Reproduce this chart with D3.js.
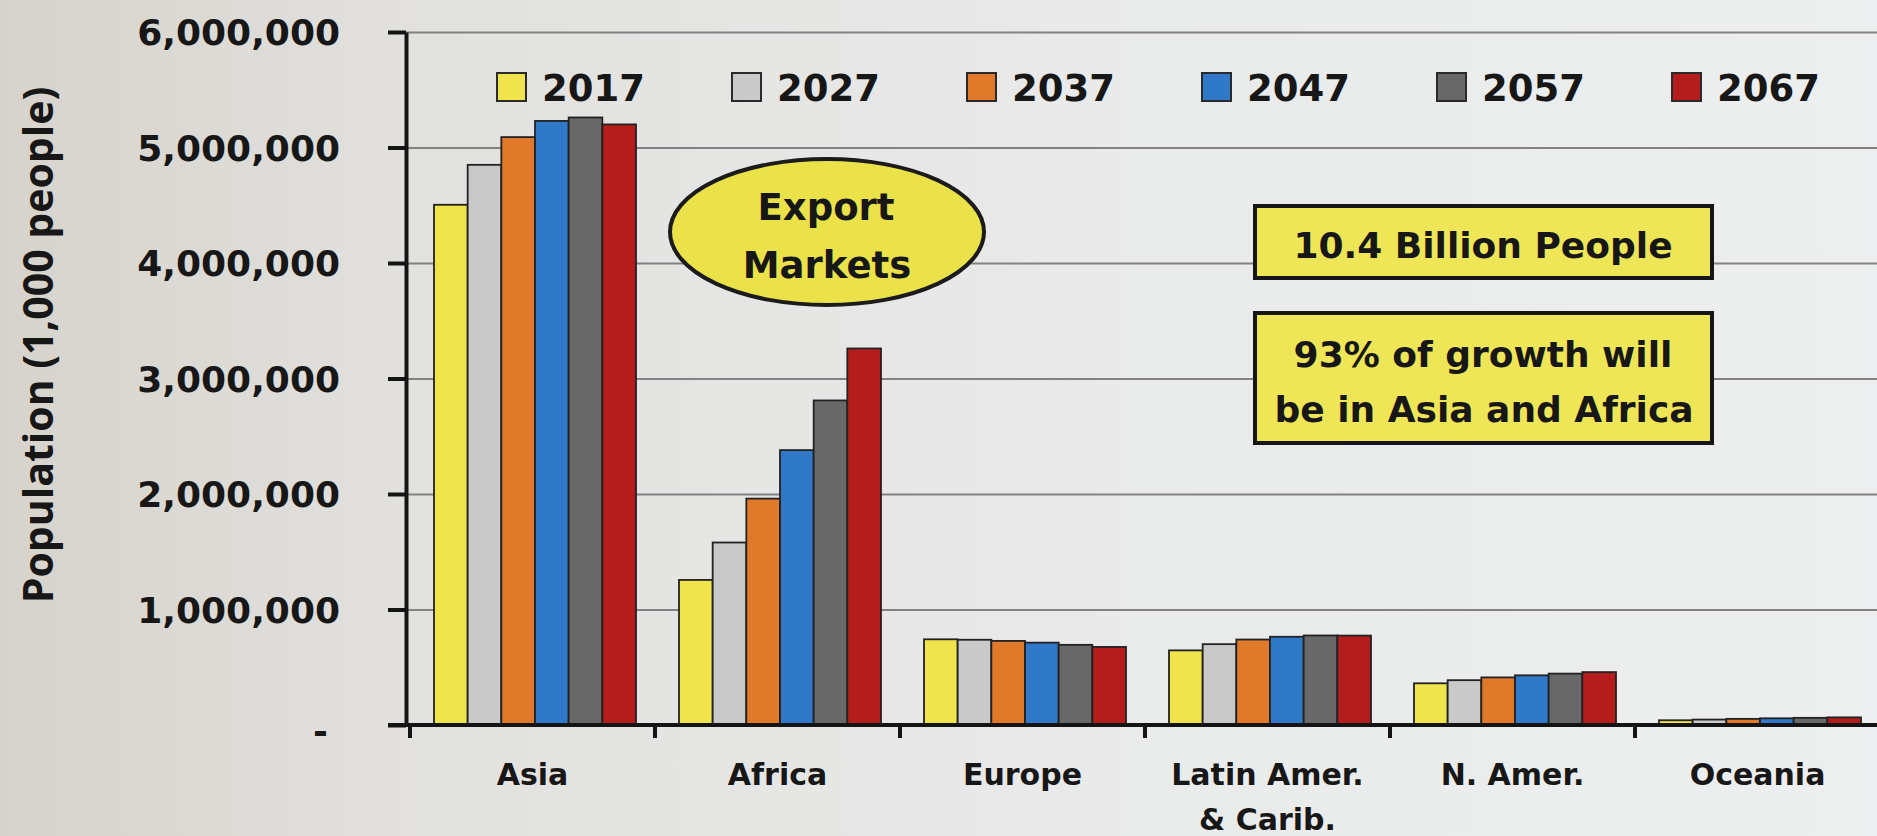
<!DOCTYPE html>
<html>
<head>
<meta charset="utf-8">
<script src="https://cdn.jsdelivr.net/npm/d3@7"></script>
<style>
  html, body { margin: 0; padding: 0; background: #e6e6e4; }
  svg { display: block; }
  text { font-family: "DejaVu Sans", sans-serif; font-weight: bold; fill: #171717; }
</style>
</head>
<body>
<svg id="chart" width="1877" height="836"></svg>
<script>
// Regions and projection years
const regions = ["Asia", "Africa", "Europe", "Latin Amer.|& Carib.", "N. Amer.", "Oceania"];
const years = ["2017", "2027", "2037", "2047", "2057", "2067"];

// Population by region (1,000 people), one array per year
const pop2017 = [4504000, 1256000, 742000, 646000, 361000, 41000];
const pop2027 = [4850000, 1580000, 738000, 700000, 388000, 47000];
const pop2037 = [5090000, 1960000, 728000, 740000, 412000, 53000];
const pop2047 = [5230000, 2380000, 713000, 764000, 430000, 58000];
const pop2057 = [5260000, 2810000, 694000, 775000, 445000, 62000];
const pop2067 = [5200000, 3260000, 676000, 774000, 458000, 66000];
const series = [pop2017, pop2027, pop2037, pop2047, pop2057, pop2067];

const yTicks = [0, 1000000, 2000000, 3000000, 4000000, 5000000, 6000000];
const colors = ["#f0e44c", "#c9c9c9", "#e07a2a", "#2f79c8", "#686868", "#b51d1d"];

const svg = d3.select("#chart");
const W = 1877, H = 836;
const plotLeft = 406, plotRight = 1880, plotTop = 32, plotBottom = 725;

// background
const defs = svg.append("defs");
const bg = defs.append("linearGradient").attr("id", "bg").attr("x1", 0).attr("x2", 1).attr("y1", 0).attr("y2", 0);
bg.append("stop").attr("offset", "0%").attr("stop-color", "#d7d3cc");
bg.append("stop").attr("offset", "22%").attr("stop-color", "#e2e1de");
bg.append("stop").attr("offset", "60%").attr("stop-color", "#e9eaea");
bg.append("stop").attr("offset", "100%").attr("stop-color", "#edeeef");
svg.append("rect").attr("width", W).attr("height", H).attr("fill", "url(#bg)");

const y = d3.scaleLinear().domain([0, 6000000]).range([plotBottom, plotTop]);
const x0 = d3.scaleBand().domain(regions).range([plotLeft + 4, plotRight]).padding(0);
const x1 = d3.scaleBand().domain(years).range([24, 226]).padding(0);

// gridlines
svg.append("g")
  .attr("transform", `translate(${plotLeft},0)`)
  .call(d3.axisLeft(y).tickValues(yTicks.slice(1)).tickSize(-(W - plotLeft)).tickFormat(""))
  .call(g => g.select(".domain").remove())
  .call(g => g.selectAll("line").attr("stroke", "#828282").attr("stroke-width", 2));

// bars
const rows = regions.map((r, i) => ({ region: r, values: years.map((yr, j) => ({ year: yr, value: series[j][i], color: colors[j] })) }));
svg.append("g").selectAll("g").data(rows).join("g")
  .attr("transform", d => `translate(${x0(d.region)},0)`)
  .selectAll("rect").data(d => d.values).join("rect")
  .attr("x", d => x1(d.year))
  .attr("y", d => y(d.value))
  .attr("width", x1.bandwidth())
  .attr("height", d => y(0) - y(d.value))
  .attr("fill", d => d.color)
  .attr("stroke", "#222")
  .attr("stroke-width", 1.8);

// y axis
svg.append("g")
  .attr("transform", `translate(${plotLeft},0)`)
  .call(d3.axisLeft(y).tickValues(yTicks).tickSize(18).tickPadding(48).tickSizeOuter(0)
    .tickFormat(d => d === 0 ? "-" : d3.format(",")(d)))
  .call(g => g.select(".domain").attr("stroke", "#141414").attr("stroke-width", 4))
  .call(g => g.selectAll(".tick line").attr("stroke", "#141414").attr("stroke-width", 4))
  .call(g => g.selectAll(".tick text").attr("font-size", 36).attr("dy", "0.36em").attr("fill", "#171717"))
  .call(g => g.selectAll(".tick").filter(d => d === 0).select("text").attr("dx", -12).attr("dy", "0.5em"));

// x axis line and category dividers
svg.append("line").attr("x1", plotLeft - 18).attr("x2", W).attr("y1", y(0)).attr("y2", y(0))
  .attr("stroke", "#141414").attr("stroke-width", 4);
svg.append("g").selectAll("line").data(regions).join("line")
  .attr("x1", d => x0(d)).attr("x2", d => x0(d))
  .attr("y1", y(0)).attr("y2", y(0) + 13)
  .attr("stroke", "#141414").attr("stroke-width", 4);

// category labels
const xl = svg.append("g").attr("transform", `translate(0,${y(0)})`)
  .call(d3.axisBottom(x0).tickSize(0).tickFormat(""));
xl.select(".domain").remove();
xl.selectAll(".tick").append("text")
  .attr("text-anchor", "middle").attr("font-size", 30)
  .each(function (d) {
    const parts = d.split("|");
    parts.forEach((p, k) => d3.select(this).append("tspan").attr("x", 0).attr("y", 60 + k * 45).text(p));
  });

// y axis title
svg.append("text")
  .attr("transform", "translate(53,345) rotate(-90)")
  .attr("text-anchor", "middle")
  .style("font-family", "'Open Sans', 'DejaVu Sans', sans-serif")
  .style("font-weight", "bold")
  .attr("font-size", 41)
  .text("Population (1,000 people)");

// legend
const lg = svg.append("g").selectAll("g").data(years).join("g")
  .attr("transform", (d, i) => `translate(${497 + i * 235},73)`);
lg.append("rect").attr("width", 29).attr("height", 28)
  .attr("fill", (d, i) => colors[i]).attr("stroke", "#2a2a2a").attr("stroke-width", 2);
lg.append("text").attr("x", 45).attr("y", 28).attr("font-size", 37).text(d => d);

// callouts
svg.append("ellipse").attr("cx", 827).attr("cy", 232).attr("rx", 157).attr("ry", 73)
  .attr("fill", "#ebe24a").attr("stroke", "#1b1b1b").attr("stroke-width", 4);
svg.append("text").attr("x", 826).attr("y", 220).attr("text-anchor", "middle").attr("font-size", 37).text("Export");
svg.append("text").attr("x", 827).attr("y", 278).attr("text-anchor", "middle").attr("font-size", 37).text("Markets");

svg.append("rect").attr("x", 1255).attr("y", 206).attr("width", 457).attr("height", 72)
  .attr("fill", "#eee657").attr("stroke", "#161616").attr("stroke-width", 4);
svg.append("text").attr("x", 1483).attr("y", 258).attr("text-anchor", "middle").attr("font-size", 36).text("10.4 Billion People");

svg.append("rect").attr("x", 1255).attr("y", 313).attr("width", 457).attr("height", 130)
  .attr("fill", "#eee657").attr("stroke", "#161616").attr("stroke-width", 4);
svg.append("text").attr("x", 1483).attr("y", 367).attr("text-anchor", "middle").attr("font-size", 36).text("93% of growth will");
svg.append("text").attr("x", 1484).attr("y", 422).attr("text-anchor", "middle").attr("font-size", 36).text("be in Asia and Africa");
</script>
</body>
</html>
